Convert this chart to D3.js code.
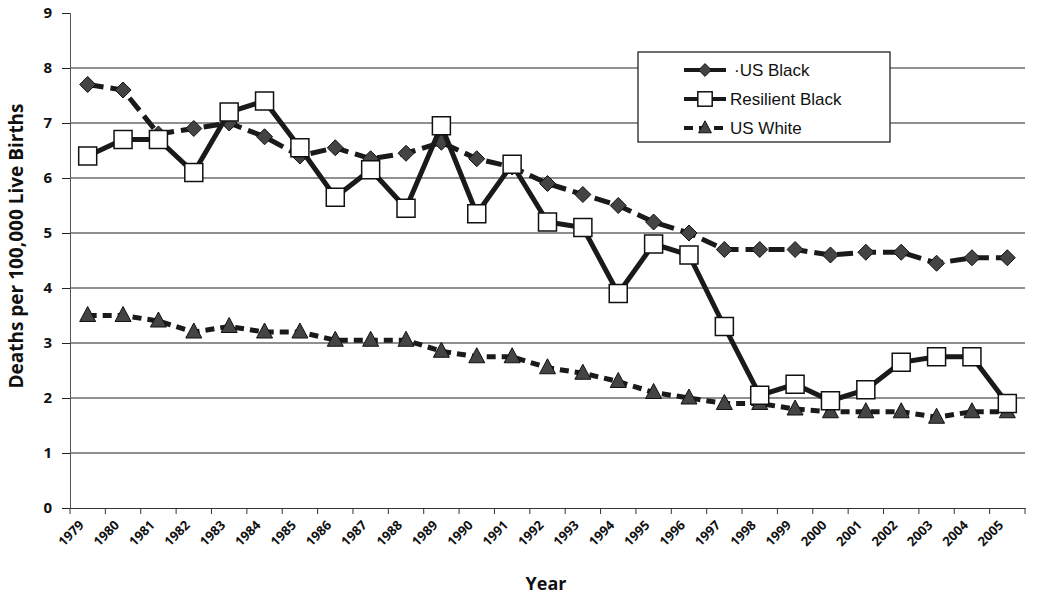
<!DOCTYPE html>
<html>
<head>
<meta charset="utf-8">
<script src="https://cdn.jsdelivr.net/npm/d3@7"></script>
<style>
  body { margin: 0; background: #fff; }
  svg { display: block; }
</style>
</head>
<body>
<div id="chart"></div>
<script>
// years along the x axis
const years = d3.range(1979, 2006).map(String);
const yTicks = [0, 1, 2, 3, 4, 5, 6, 7, 8, 9];

// deaths per 100,000 live births
const usBlack = [7.7, 7.6, 6.8, 6.9, 7.0, 6.75, 6.4, 6.55, 6.35, 6.45, 6.65, 6.35, 6.2, 5.9,
  5.7, 5.5, 5.2, 5.0, 4.7, 4.7, 4.7, 4.6, 4.65, 4.65, 4.45, 4.55, 4.55];
const resilientBlack = [6.4, 6.7, 6.7, 6.1, 7.2, 7.4, 6.55, 5.65, 6.15, 5.45, 6.95, 5.35, 6.25, 5.2,
  5.1, 3.9, 4.8, 4.6, 3.3, 2.05, 2.25, 1.95, 2.15, 2.65, 2.75, 2.75, 1.9];
const usWhite = [3.5, 3.5, 3.4, 3.2, 3.3, 3.2, 3.2, 3.05, 3.05, 3.05, 2.85, 2.75, 2.75, 2.55,
  2.45, 2.3, 2.1, 2.0, 1.9, 1.9, 1.8, 1.75, 1.75, 1.75, 1.65, 1.75, 1.75];

const seriesNames = ["US Black", "Resilient Black", "US White"];

const W = 1050, H = 609;
const svg = d3.select("#chart").append("svg").attr("width", W).attr("height", H);

const x = d3.scaleBand().domain(years).range([70, 1025]);
const y = d3.scaleLinear().domain([0, 9]).range([508, 13]);
const cx = (i) => x(years[i]) + x.bandwidth() / 2;

const axisFont = "'Open Sans', 'Liberation Sans', sans-serif";

// gridlines (none at 9, only a tick)
svg.append("g")
  .selectAll("line")
  .data(yTicks.filter((t) => t > 0 && t < 9))
  .join("line")
  .attr("x1", 70).attr("x2", 1025)
  .attr("y1", (d) => y(d)).attr("y2", (d) => y(d))
  .attr("stroke", "#222").attr("stroke-width", 1.2);

// y axis
const yAxis = svg.append("g")
  .attr("transform", "translate(70,0)")
  .call(d3.axisLeft(y).tickValues(yTicks).tickSize(8).tickPadding(10).tickFormat(d3.format("d")));
yAxis.select(".domain").attr("stroke", "#555").attr("stroke-width", 1);
yAxis.selectAll(".tick line").attr("stroke", "#222");
yAxis.selectAll("text")
  .attr("font-family", axisFont).attr("font-size", 15).attr("font-weight", "bold").attr("fill", "#111");

// x axis (labels drawn by hand below so the rotation is explicit)
const xAxis = svg.append("g")
  .attr("transform", "translate(0,508)")
  .call(d3.axisBottom(x).tickSize(0).tickFormat(""));
xAxis.select(".domain").attr("stroke", "#333").attr("stroke-width", 1.2);

svg.append("g")
  .selectAll("text")
  .data(years)
  .join("text")
  .attr("transform", (d) => `translate(${x(d) + x.bandwidth() / 2 - 3},${526}) rotate(-45)`)
  .attr("text-anchor", "end")
  .attr("font-family", axisFont).attr("font-size", 13).attr("font-weight", "bold").attr("fill", "#111")
  .text((d) => d);

// tick marks at band boundaries
svg.append("g")
  .selectAll("line")
  .data(d3.range(years.length + 1))
  .join("line")
  .attr("x1", (i) => 70 + i * x.step()).attr("x2", (i) => 70 + i * x.step())
  .attr("y1", 508).attr("y2", 514)
  .attr("stroke", "#333");

// axis titles
svg.append("text")
  .attr("transform", "translate(23,246) rotate(-90)")
  .attr("text-anchor", "middle")
  .attr("font-family", axisFont).attr("font-size", 19).attr("font-weight", "bold").attr("fill", "#111")
  .text("Deaths per 100,000 Live Births");
svg.append("text")
  .attr("x", 546).attr("y", 590)
  .attr("text-anchor", "middle")
  .attr("font-family", axisFont).attr("font-size", 18).attr("font-weight", "bold").attr("fill", "#111")
  .text("Year");

const line = d3.line().x((d, i) => cx(i)).y((d) => y(d));

const styles = {
  "US White": { data: usWhite, dash: "9,6", marker: "triangle" },
  "US Black": { data: usBlack, dash: "16,7", marker: "diamond" },
  "Resilient Black": { data: resilientBlack, dash: null, marker: "square" }
};

function drawMarker(g, kind, px, py, scale) {
  const s = scale || 1;
  if (kind === "diamond") {
    g.append("path")
      .attr("d", `M${px},${py - 8 * s}L${px + 8 * s},${py}L${px},${py + 8 * s}L${px - 8 * s},${py}Z`)
      .attr("fill", "#444").attr("stroke", "#111").attr("stroke-width", 1);
  } else if (kind === "square") {
    g.append("rect")
      .attr("x", px - 9 * s).attr("y", py - 9 * s)
      .attr("width", 18 * s).attr("height", 18 * s)
      .attr("fill", "#fff").attr("stroke", "#111").attr("stroke-width", 1.5);
  } else {
    g.append("path")
      .attr("d", `M${px},${py - 9 * s}L${px + 8 * s},${py + 6 * s}L${px - 8 * s},${py + 6 * s}Z`)
      .attr("fill", "#444").attr("stroke", "#111").attr("stroke-width", 1);
  }
}

// draw order: white, black, resilient on top
["US White", "US Black", "Resilient Black"].forEach((name) => {
  const st = styles[name];
  const g = svg.append("g");
  g.append("path")
    .datum(st.data)
    .attr("d", line)
    .attr("fill", "none")
    .attr("stroke", "#1a1a1a")
    .attr("stroke-width", 5)
    .attr("stroke-dasharray", st.dash);
  st.data.forEach((v, i) => drawMarker(g, st.marker, cx(i), y(v)));
});

// legend
const lg = svg.append("g").attr("transform", "translate(638,52)");
lg.append("rect")
  .attr("width", 252).attr("height", 90)
  .attr("fill", "#fff").attr("stroke", "#222").attr("stroke-width", 1.3);
seriesNames.forEach((name, i) => {
  const st = styles[name];
  const ly = 18 + i * 29;
  lg.append("line")
    .attr("x1", 46).attr("x2", 88).attr("y1", ly).attr("y2", ly)
    .attr("stroke", "#1a1a1a").attr("stroke-width", 4)
    .attr("stroke-dasharray", name === "US White" ? "9,6" : null);
  drawMarker(lg, st.marker, 67, ly, 0.8);
  lg.append("text")
    .attr("x", name === "US Black" ? 96 : 92).attr("y", ly + 6)
    .attr("font-family", "'Liberation Sans', Arial, sans-serif")
    .attr("font-size", 17).attr("fill", "#111")
    .text(name === "US Black" ? "\u00b7US Black" : name);
});
</script>
</body>
</html>
